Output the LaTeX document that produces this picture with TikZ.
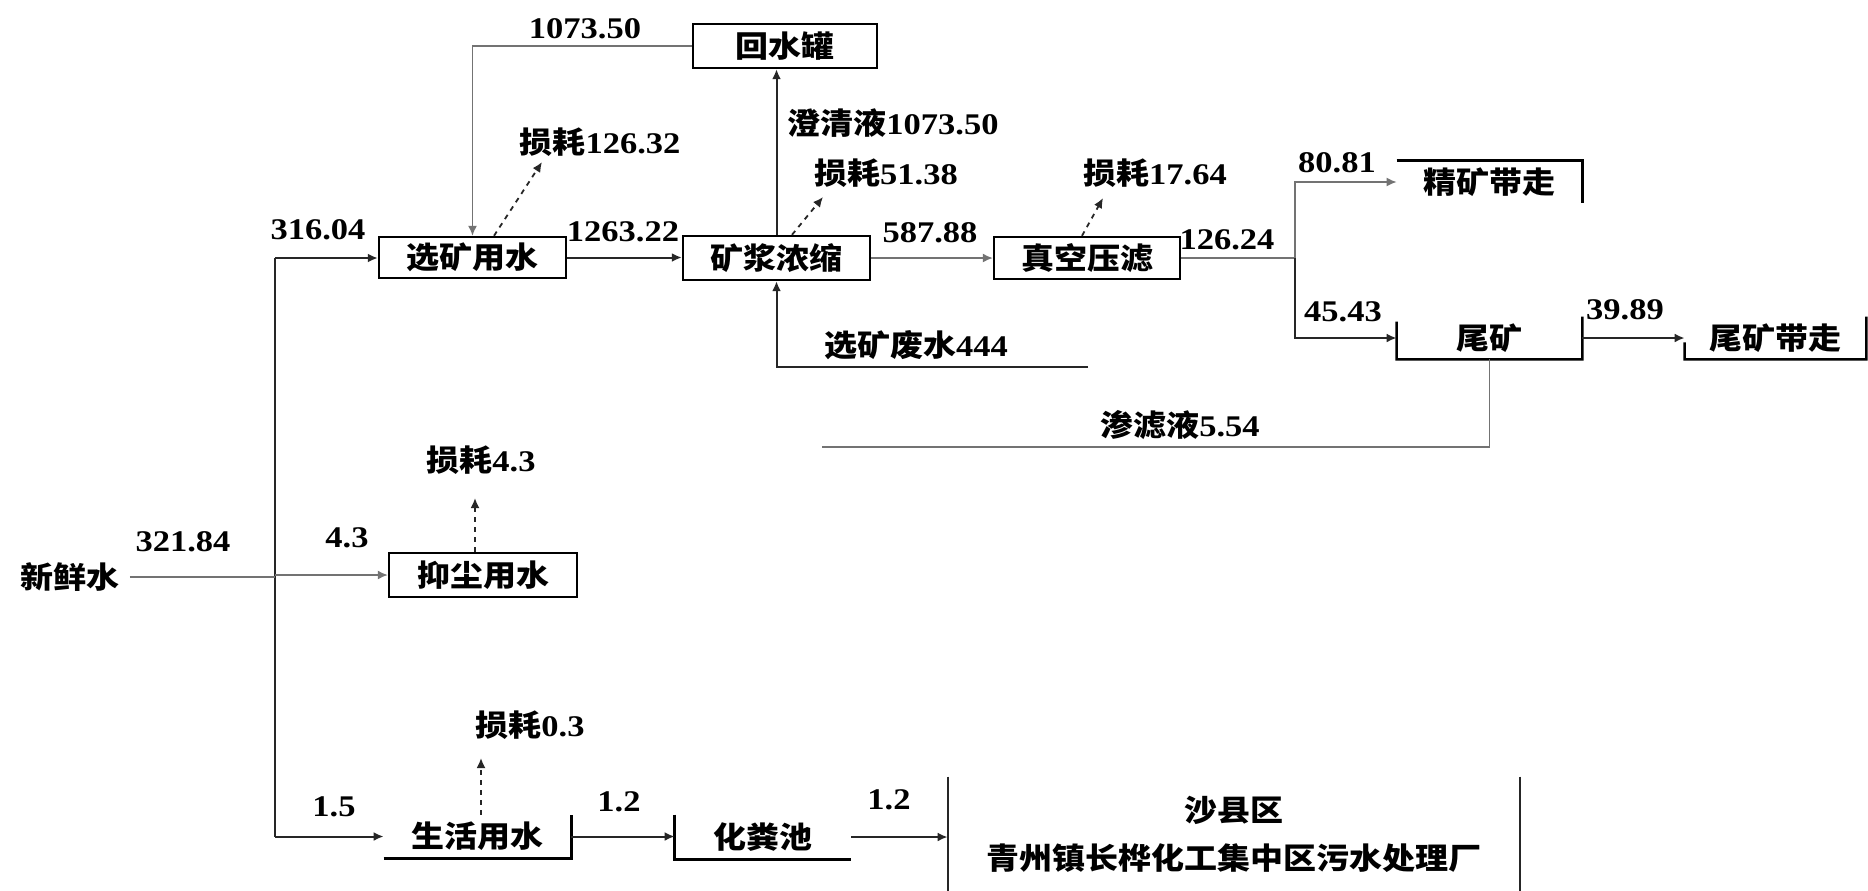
\documentclass[tikz,border=0pt]{standalone}
\usepackage{fontspec}
\setmainfont{Liberation Serif}[FakeStretch=1.15]
\newfontfamily\cjkf{Noto Sans CJK SC}[FakeStretch=1.1]
\newcommand\zhtxt[1]{{\cjkf #1}}
\usetikzlibrary{arrows.meta,calc}
\begin{document}
\begin{tikzpicture}[x=0.5pt,y=-0.5pt,
  every node/.style={font=\fontsize{15}{18}\selectfont\bfseries, inner sep=0pt},
  bx/.style={draw=black, line width=1.2pt},
  bl/.style={line width=1.2pt, black},
  ln/.style={line width=1pt, black!85},
  fl/.style={line width=0.8pt, black!55},
  arr/.style={-{Latex[length=5pt,width=4.5pt]}},
  loss/.style={line width=0.9pt, black!85, dash pattern=on 2.5pt off 2.5pt, -{Latex[length=5pt,width=4.5pt]}}
]
\fill[white] (0,0) rectangle (1868,890);
\useasboundingbox (0,0) rectangle (1868,890);

% boxes
\node[bx, minimum width=92pt, minimum height=22pt] (hs) at (785,46) {\zhtxt{回水罐}};
\node[bx, minimum width=93.5pt, minimum height=20.5pt] (xk) at (472.5,257.5) {\zhtxt{选矿用水}};
\node[bx, minimum width=93.5pt, minimum height=22pt] (ns) at (776.5,258) {\zhtxt{矿浆浓缩}};
\node[bx, minimum width=93pt, minimum height=21pt] (yl) at (1087,258) {\zhtxt{真空压滤}};
\node[minimum width=92.5pt, minimum height=21pt] (jk) at (1489.5,182) {\zhtxt{精矿带走}};
\node[minimum width=92.5pt, minimum height=21pt] (wk) at (1489.5,338) {\zhtxt{尾矿}};
\node[minimum width=90.5pt, minimum height=21pt] (wd) at (1775.5,338) {\zhtxt{尾矿带走}};
\node[bx, minimum width=94pt, minimum height=22pt] (yc) at (483,575) {\zhtxt{抑尘用水}};
\node[minimum width=93.5pt, minimum height=21.5pt] (sh) at (477.5,836.5) {\zhtxt{生活用水}};
\node[minimum width=88pt, minimum height=22pt] (hf) at (763,837) {\zhtxt{化粪池}};
\node[minimum width=286pt, minimum height=57pt, align=center] (wc) at (1234,834)
  {\zhtxt{沙县区}\\[6pt]\zhtxt{青州镇长桦化工集中区污水处理厂}};

% partial borders
\draw[bl] (jk.north west) -- (jk.north east) -- (jk.south east);
\draw[bl] ($(wk.north west)!0.12!(wk.south west)$) -- (wk.south west) -- (wk.south east) -- (wk.north east);
\draw[bl] ($(wd.north west)!0.6!(wd.south west)$) -- (wd.south west) -- (wd.south east) -- (wd.north east);
\draw[bl] (sh.south west) -- (sh.south east) -- (sh.north east);
\draw[bl] (hf.north west) -- (hf.south west) -- (hf.south east);
\draw[ln] (wc.north west) -- (wc.south west);
\draw[ln] (wc.north east) -- (wc.south east);

% labels
\node (t1) at (585,29) {1073.50};
\node (t2) at (318,230) {316.04};
\node (t3) at (600,142) {\zhtxt{损耗}126.32};
\node (t4) at (623,232) {1263.22};
\node[anchor=west] (t5) at (787,123) {\zhtxt{澄清液}1073.50};
\node (t6) at (886,173) {\zhtxt{损耗}51.38};
\node (t7) at (930,233) {587.88};
\node (t8) at (1155,173) {\zhtxt{损耗}17.64};
\node (t9) at (1227,240) {126.24};
\node (t10) at (1337,163) {80.81};
\node (t11) at (1343,312) {45.43};
\node (t12) at (1625,310) {39.89};
\node (t13) at (916,345) {\zhtxt{选矿废水}444};
\node (t14) at (1180,425) {\zhtxt{渗滤液}5.54};
\node (xx) at (70,577) {\zhtxt{新鲜水}};
\node (t15) at (183,542) {321.84};
\node (t16) at (347,538) {4.3};
\node (t17) at (481,460) {\zhtxt{损耗}4.3};
\node (t18) at (334,807) {1.5};
\node (t19) at (530,725) {\zhtxt{损耗}0.3};
\node (t20) at (619,802) {1.2};
\node (t21) at (889,800) {1.2};

% coordinates
\coordinate (tt) at (275,258);
\coordinate (tb) at (275,836.5);
\coordinate (br) at (1295,258);
\coordinate (fw) at (1088,367);
\coordinate (sl) at (822,447);

% connectors
\draw[fl,arr] (hs.west) -| (xk.north);
\draw[ln] (tt) -- (tb);
\draw[ln,arr] (tt) -- (tt -| xk.west);
\draw[fl,shorten <=5pt] (xx.east) -- (xx.east -| tt);
\draw[fl,arr] (tt |- yc.west) -- (yc.west);
\draw[ln,arr] (tb) -- (sh.west);
\draw[ln,arr] (xk.east) -- (xk.east -| ns.west);
\draw[ln,arr] (ns.north) -- (ns.north |- hs.south);
\draw[fl,arr] (ns.east) -- (yl.west);
\draw[ln,arr] (fw) -| (ns.south);
\draw[fl] (yl.east) -- (br);
\draw[fl,arr] (br) |- (jk.west);
\draw[ln,arr] (br) |- (wk.west);
\draw[ln,arr] (wk.east) -- (wd.west);
\draw[fl] (wk.south) |- (sl);
\draw[ln,arr] (sh.east) -- (sh.east -| hf.west);
\draw[ln,arr] (hf.east) -- (hf.east -| wc.west);

% loss arrows
\draw[loss] ($(xk.north)+(21.5,0)$) -- ($(t3)+(-58,20)$);
\draw[loss] ($(ns.north)+(15.5,0)$) -- ($(t6)+(-63,24)$);
\draw[loss] ($(yl.north)+(-5,0)$) -- ($(t8)+(-52,25)$);
\draw[loss] ($(yc.north)+(-8,0)$) -- ($(t17)+(-6,38)$);
\draw[loss] ($(sh.north)+(3.5,0)$) -- ($(t19)+(-49,33)$);
\end{tikzpicture}
\end{document}
